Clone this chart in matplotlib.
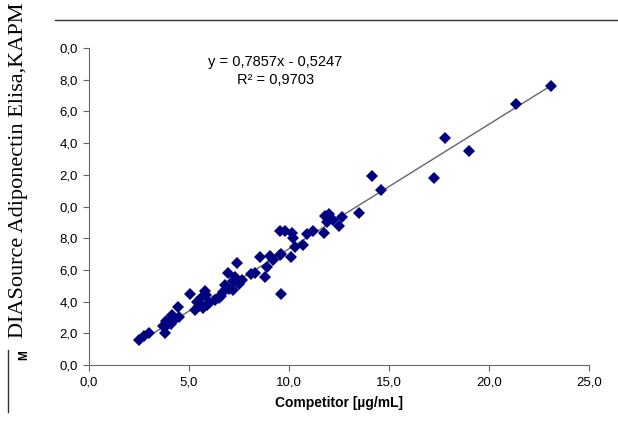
import numpy as np
import matplotlib
matplotlib.use("Agg")
import matplotlib.pyplot as plt
from matplotlib.lines import Line2D

# values
competitor = [2.5, 2.75, 3.0, 3.8, 3.7, 3.9, 3.85, 4.1, 4.3, 4.15, 4.5, 4.45, 4.0,
              5.05, 5.3, 5.4, 5.6, 5.8, 5.85, 5.9, 5.5, 6.0, 5.7,
              6.3, 6.5, 6.6, 6.8, 6.7, 6.97, 7.0, 7.22, 7.3, 7.38, 7.5, 7.63, 7.2,
              8.1, 8.3, 8.55, 8.8, 8.88, 9.05, 9.2, 9.55, 9.6, 9.55, 9.8, 9.6,
              10.13, 10.2, 10.1, 10.3, 10.72, 10.88, 11.22,
              11.75, 11.8, 12.0, 12.2, 12.5, 12.65, 11.9, 13.5,
              14.13, 14.6, 17.27, 17.8, 19.0, 21.35, 23.1]
diasource = [1.55, 1.8, 2.0, 2.0, 2.45, 2.55, 2.75, 2.6, 2.9, 3.15, 3.0, 3.65, 2.7,
             4.5, 3.5, 3.95, 4.2, 4.7, 4.4, 3.8, 3.7, 3.9, 3.6,
             4.1, 4.2, 4.35, 5.05, 4.6, 5.78, 4.8, 4.73, 5.57, 6.41, 5.1, 5.36, 5.3,
             5.75, 5.78, 6.83, 5.53, 6.2, 6.88, 6.6, 6.94, 4.5, 8.45, 8.45, 7.0,
             8.3, 7.99, 6.79, 7.46, 7.57, 8.24, 8.45,
             8.35, 9.4, 9.5, 9.15, 8.8, 9.35, 9.0, 9.57,
             11.9, 11.06, 11.82, 14.3, 13.52, 16.49, 17.63]
slope, intercept = 0.7857, -0.5247
r2 = 0.9703

x_ticks = [0, 5, 10, 15, 20, 25]
x_labels = ['0,0', '5,0', '10,0', '15,0', '20,0', '25,0']
y_ticks = list(range(0, 21, 2))
y_labels = ['0,0', '2,0', '4,0', '6,0', '8,0', '0,0', '2,0', '4,0', '6,0', '8,0', '0,0']

plt.rcParams['font.family'] = ['Liberation Sans', 'DejaVu Sans']

fig = plt.figure(figsize=(6.18, 4.23), dpi=100)
ax = fig.add_axes([89/618, 58/423, 500/618, 317/423])

xs = np.array(competitor)
fit_x = np.array([xs.min(), xs.max()])
ax.plot(fit_x, slope*fit_x + intercept, color='#666666', lw=1, zorder=1)
ax.plot(competitor, diasource, 'D', color='#000080', ms=5.8, mew=0, zorder=2)

ax.set_xlim(0, 25)
ax.set_ylim(0, 20)
ax.set_xticks(x_ticks)
ax.set_xticklabels(x_labels, fontsize=9.5)
ax.set_yticks(y_ticks)
ax.set_yticklabels(y_labels, fontsize=9.5)
for s in ['top', 'right']:
    ax.spines[s].set_visible(False)
for s in ['left', 'bottom']:
    ax.spines[s].set_color('#666666')
ax.tick_params(direction='out', length=4, color='#666666', pad=4)
ax.set_xlabel('Competitor [µg/mL]', fontsize=10, fontweight='bold', labelpad=6)

ax.text(0.373, 0.955, 'y = 0,7857x - 0,5247', transform=ax.transAxes,
        ha='center', va='center', fontsize=10.5)
ax.text(0.373, 0.9, 'R² = 0,9703', transform=ax.transAxes,
        ha='center', va='center', fontsize=10.5)

# stray bits around the chart
fig.text(19/618, 1 - 338/423, 'DIASource Adiponectin Elisa,KAPM', rotation=90,
         ha='center', va='bottom', fontsize=16, family='Liberation Serif')
fig.text(24/618, 1 - 355/423, 'M', rotation=90, ha='center', va='center',
         fontsize=8.5, fontweight='bold')
fig.add_artist(Line2D([55/618, 1], [1 - 20/423, 1 - 20/423], color='#333333', lw=1))
fig.add_artist(Line2D([8/618, 8/618], [1 - 350/423, 1 - 412/423], color='#333333', lw=1))

fig.savefig('out.png', dpi=100)
